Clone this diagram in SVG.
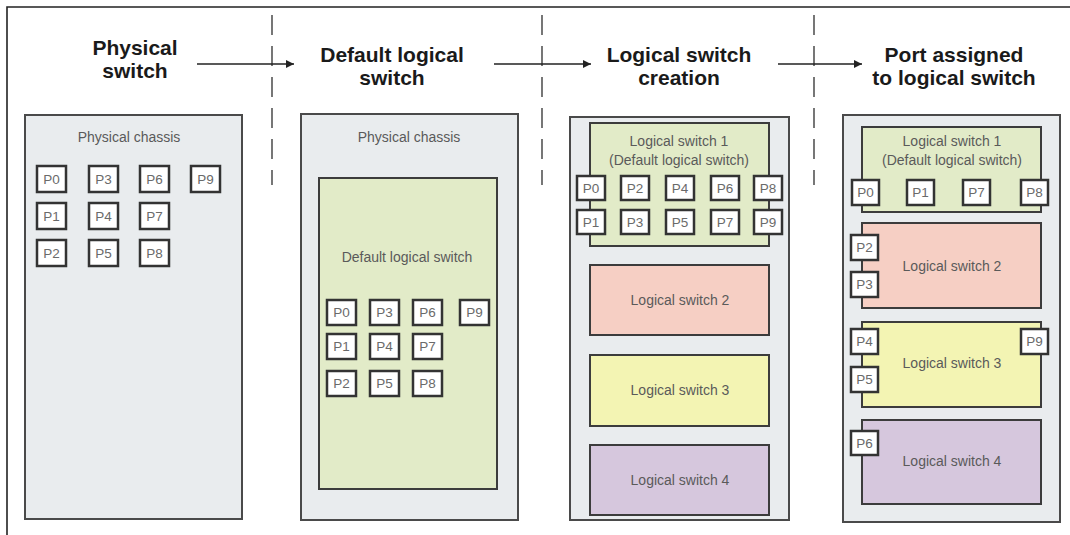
<svg xmlns="http://www.w3.org/2000/svg" width="1070" height="535" viewBox="0 0 1070 535">
<defs>
<style>
.hdr{font-family:"Liberation Sans",Arial,sans-serif;font-weight:bold;font-size:21px;fill:#1a1a1a;text-anchor:middle}
.lbl{font-family:"Liberation Sans",Arial,sans-serif;font-size:14px;fill:#5a5a5a;text-anchor:middle}
.plbl{font-family:"Liberation Sans",Arial,sans-serif;font-size:13.5px;fill:#6a6a6a;text-anchor:middle}
.chassis{fill:#e9ecee;stroke:#4a4a4a;stroke-width:2}
.ls{stroke:#3c3c3c;stroke-width:2}
.green{fill:#e2ebc8}
.red{fill:#f6cfc4}
.yellow{fill:#f3f4b3}
.purple{fill:#d6c7dd}
.port rect{fill:#ffffff;stroke:#333;stroke-width:2.5}
.sep{stroke:#555;stroke-width:1.6;stroke-dasharray:20 11;fill:none}
.arrow{stroke:#222;stroke-width:1.3;fill:none;marker-end:url(#ah)}
.frame{stroke:#222;stroke-width:1.6;fill:none}
</style>
<marker id="ah" viewBox="0 0 10 10" refX="10" refY="5" markerWidth="10" markerHeight="8" markerUnits="userSpaceOnUse" orient="auto">
<path d="M0,0 L10,5 L0,10 z" fill="#222"/>
</marker>
</defs>
<rect x="0" y="0" width="1070" height="535" fill="#ffffff"/>
<path class="frame" d="M7,535 L7,7 L1070,7"/>

<g id="separators">
<line class="sep" x1="272" y1="15" x2="272" y2="185"/>
<line class="sep" x1="542" y1="15" x2="542" y2="185"/>
<line class="sep" x1="814" y1="15" x2="814" y2="185"/>
</g>

<g id="headers">
<text class="hdr" x="135" y="55">Physical</text>
<text class="hdr" x="135" y="78">switch</text>
<text class="hdr" x="392" y="62">Default logical</text>
<text class="hdr" x="392" y="85">switch</text>
<text class="hdr" x="679" y="62">Logical switch</text>
<text class="hdr" x="679" y="85">creation</text>
<text class="hdr" x="954" y="62">Port assigned</text>
<text class="hdr" x="954" y="85">to logical switch</text>
</g>

<g id="connectors">
<line class="arrow" x1="197" y1="64" x2="294" y2="64"/>
<line class="arrow" x1="494" y1="64" x2="591" y2="64"/>
<line class="arrow" x1="778" y1="64" x2="862" y2="64"/>
</g>

<g id="panel1">
<rect class="chassis" x="25" y="115" width="217" height="404"/>
<text class="lbl" x="129" y="142">Physical chassis</text>
<g class="port">
<rect x="37" y="166" width="29" height="26"/><text class="plbl" x="51.5" y="184">P0</text>
<rect x="89" y="166" width="29" height="26"/><text class="plbl" x="103.5" y="184">P3</text>
<rect x="140" y="166" width="29" height="26"/><text class="plbl" x="154.5" y="184">P6</text>
<rect x="191" y="166" width="29" height="26"/><text class="plbl" x="205.5" y="184">P9</text>
<rect x="37" y="203" width="29" height="26"/><text class="plbl" x="51.5" y="221">P1</text>
<rect x="89" y="203" width="29" height="26"/><text class="plbl" x="103.5" y="221">P4</text>
<rect x="140" y="203" width="29" height="26"/><text class="plbl" x="154.5" y="221">P7</text>
<rect x="37" y="240" width="29" height="26"/><text class="plbl" x="51.5" y="258">P2</text>
<rect x="89" y="240" width="29" height="26"/><text class="plbl" x="103.5" y="258">P5</text>
<rect x="140" y="240" width="29" height="26"/><text class="plbl" x="154.5" y="258">P8</text>
</g>
</g>

<g id="panel2">
<rect class="chassis" x="301" y="114" width="217" height="406"/>
<text class="lbl" x="409" y="142">Physical chassis</text>
<g id="default-logical-switch">
<rect class="ls green" x="319" y="178" width="178" height="311"/>
<text class="lbl" x="407" y="262">Default logical switch</text>
<g class="port">
<rect x="327" y="300" width="29" height="25"/><text class="plbl" x="341.5" y="317">P0</text>
<rect x="370" y="300" width="29" height="25"/><text class="plbl" x="384.5" y="317">P3</text>
<rect x="413" y="300" width="29" height="25"/><text class="plbl" x="427.5" y="317">P6</text>
<rect x="460" y="300" width="29" height="25"/><text class="plbl" x="474.5" y="317">P9</text>
<rect x="327" y="334" width="29" height="25"/><text class="plbl" x="341.5" y="351">P1</text>
<rect x="370" y="334" width="29" height="25"/><text class="plbl" x="384.5" y="351">P4</text>
<rect x="413" y="334" width="29" height="25"/><text class="plbl" x="427.5" y="351">P7</text>
<rect x="327" y="371" width="29" height="25"/><text class="plbl" x="341.5" y="388">P2</text>
<rect x="370" y="371" width="29" height="25"/><text class="plbl" x="384.5" y="388">P5</text>
<rect x="413" y="371" width="29" height="25"/><text class="plbl" x="427.5" y="388">P8</text>
</g>
</g>
</g>

<g id="panel3">
<rect class="chassis" x="570" y="117" width="219" height="403"/>
<g id="p3-ls1">
<rect class="ls green" x="590" y="123" width="179" height="123"/>
<text class="lbl" x="679" y="146">Logical switch 1</text>
<text class="lbl" x="679" y="165">(Default logical switch)</text>
<g class="port">
<rect x="577" y="176" width="28" height="24"/><text class="plbl" x="591" y="193">P0</text>
<rect x="621" y="176" width="28" height="24"/><text class="plbl" x="635" y="193">P2</text>
<rect x="666" y="176" width="28" height="24"/><text class="plbl" x="680" y="193">P4</text>
<rect x="711" y="176" width="28" height="24"/><text class="plbl" x="725" y="193">P6</text>
<rect x="754" y="176" width="28" height="24"/><text class="plbl" x="768" y="193">P8</text>
<rect x="577" y="210" width="28" height="24"/><text class="plbl" x="591" y="227">P1</text>
<rect x="621" y="210" width="28" height="24"/><text class="plbl" x="635" y="227">P3</text>
<rect x="666" y="210" width="28" height="24"/><text class="plbl" x="680" y="227">P5</text>
<rect x="711" y="210" width="28" height="24"/><text class="plbl" x="725" y="227">P7</text>
<rect x="754" y="210" width="28" height="24"/><text class="plbl" x="768" y="227">P9</text>
</g>
</g>
<g id="p3-ls2">
<rect class="ls red" x="590" y="265" width="179" height="70"/>
<text class="lbl" x="680" y="305">Logical switch 2</text>
</g>
<g id="p3-ls3">
<rect class="ls yellow" x="590" y="355" width="179" height="71"/>
<text class="lbl" x="680" y="395">Logical switch 3</text>
</g>
<g id="p3-ls4">
<rect class="ls purple" x="590" y="445" width="179" height="70"/>
<text class="lbl" x="680" y="485">Logical switch 4</text>
</g>
</g>

<g id="panel4">
<rect class="chassis" x="843" y="115" width="217" height="407"/>
<g id="p4-ls1">
<rect class="ls green" x="862" y="127" width="179" height="85"/>
<text class="lbl" x="952" y="146">Logical switch 1</text>
<text class="lbl" x="952" y="165">(Default logical switch)</text>
<g class="port">
<rect x="852" y="180" width="27" height="25"/><text class="plbl" x="865.5" y="197">P0</text>
<rect x="907" y="180" width="27" height="25"/><text class="plbl" x="920.5" y="197">P1</text>
<rect x="963" y="180" width="27" height="25"/><text class="plbl" x="976.5" y="197">P7</text>
<rect x="1021" y="180" width="27" height="25"/><text class="plbl" x="1034.5" y="197">P8</text>
</g>
</g>
<g id="p4-ls2">
<rect class="ls red" x="862" y="223" width="179" height="85"/>
<text class="lbl" x="952" y="271">Logical switch 2</text>
<g class="port">
<rect x="851" y="235" width="27" height="25"/><text class="plbl" x="864.5" y="252">P2</text>
<rect x="851" y="272" width="27" height="25"/><text class="plbl" x="864.5" y="289">P3</text>
</g>
</g>
<g id="p4-ls3">
<rect class="ls yellow" x="862" y="322" width="179" height="85"/>
<text class="lbl" x="952" y="368">Logical switch 3</text>
<g class="port">
<rect x="851" y="329" width="27" height="25"/><text class="plbl" x="864.5" y="346">P4</text>
<rect x="851" y="367" width="27" height="25"/><text class="plbl" x="864.5" y="384">P5</text>
<rect x="1021" y="329" width="27" height="25"/><text class="plbl" x="1034.5" y="346">P9</text>
</g>
</g>
<g id="p4-ls4">
<rect class="ls purple" x="862" y="420" width="179" height="84"/>
<text class="lbl" x="952" y="466">Logical switch 4</text>
<g class="port">
<rect x="851" y="431" width="27" height="24"/><text class="plbl" x="864.5" y="448">P6</text>
</g>
</g>
</g>
</svg>
